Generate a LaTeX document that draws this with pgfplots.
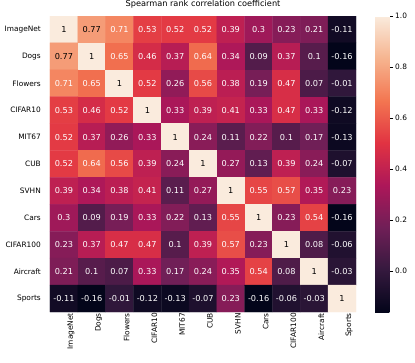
\documentclass[border=0pt]{standalone}
\usepackage{fontspec}
\setmainfont{DejaVu Sans}
\usepackage{pgfplots}
\usepackage{pgfplotstable}
\pgfplotsset{compat=1.18}
\usetikzlibrary{calc}

% seaborn "rocket"
\pgfplotsset{colormap={rocket}{rgb255=(3,5,26) rgb255=(53,25,62) rgb255=(112,31,87)
  rgb255=(173,23,89) rgb255=(225,51,66) rgb255=(243,118,81) rgb255=(246,180,143)
  rgb255=(250,235,221)}}

% x = column, y = row (0 = ImageNet ... 10 = Sports), k = 100 for black text, 0 for white
\pgfplotstableread{
x y c k
0 0 1 100
1 0 0.77 100
2 0 0.71 0
3 0 0.53 0
4 0 0.52 0
5 0 0.52 0
6 0 0.39 0
7 0 0.3 0
8 0 0.23 0
9 0 0.21 0
10 0 -0.11 0
0 1 0.77 100
1 1 1 100
2 1 0.65 0
3 1 0.46 0
4 1 0.37 0
5 1 0.64 0
6 1 0.34 0
7 1 0.09 0
8 1 0.37 0
9 1 0.1 0
10 1 -0.16 0
0 2 0.71 0
1 2 0.65 0
2 2 1 100
3 2 0.52 0
4 2 0.26 0
5 2 0.56 0
6 2 0.38 0
7 2 0.19 0
8 2 0.47 0
9 2 0.07 0
10 2 -0.01 0
0 3 0.53 0
1 3 0.46 0
2 3 0.52 0
3 3 1 100
4 3 0.33 0
5 3 0.39 0
6 3 0.41 0
7 3 0.33 0
8 3 0.47 0
9 3 0.33 0
10 3 -0.12 0
0 4 0.52 0
1 4 0.37 0
2 4 0.26 0
3 4 0.33 0
4 4 1 100
5 4 0.24 0
6 4 0.11 0
7 4 0.22 0
8 4 0.1 0
9 4 0.17 0
10 4 -0.13 0
0 5 0.52 0
1 5 0.64 0
2 5 0.56 0
3 5 0.39 0
4 5 0.24 0
5 5 1 100
6 5 0.27 0
7 5 0.13 0
8 5 0.39 0
9 5 0.24 0
10 5 -0.07 0
0 6 0.39 0
1 6 0.34 0
2 6 0.38 0
3 6 0.41 0
4 6 0.11 0
5 6 0.27 0
6 6 1 100
7 6 0.55 0
8 6 0.57 0
9 6 0.35 0
10 6 0.23 0
0 7 0.3 0
1 7 0.09 0
2 7 0.19 0
3 7 0.33 0
4 7 0.22 0
5 7 0.13 0
6 7 0.55 0
7 7 1 100
8 7 0.23 0
9 7 0.54 0
10 7 -0.16 0
0 8 0.23 0
1 8 0.37 0
2 8 0.47 0
3 8 0.47 0
4 8 0.1 0
5 8 0.39 0
6 8 0.57 0
7 8 0.23 0
8 8 1 100
9 8 0.08 0
10 8 -0.06 0
0 9 0.21 0
1 9 0.1 0
2 9 0.07 0
3 9 0.33 0
4 9 0.17 0
5 9 0.24 0
6 9 0.35 0
7 9 0.54 0
8 9 0.08 0
9 9 1 100
10 9 -0.03 0
0 10 -0.11 0
1 10 -0.16 0
2 10 -0.01 0
3 10 -0.12 0
4 10 -0.13 0
5 10 -0.07 0
6 10 0.23 0
7 10 -0.16 0
8 10 -0.06 0
9 10 -0.03 0
10 10 1 100
}\corr

\begin{document}
\begin{tikzpicture}[font=\fontsize{8.2}{10}\selectfont]
\begin{axis}[
    name=hm,
    width=306pt, height=296pt, scale only axis,
    xmin=-0.5, xmax=10.5, ymin=-0.5, ymax=10.5,
    y dir=reverse,
    xtick={0,...,10}, ytick={0,...,10},
    xticklabels={ImageNet,Dogs,Flowers,CIFAR10,MIT67,CUB,SVHN,Cars,CIFAR100,Aircraft,Sports},
    yticklabels={ImageNet,Dogs,Flowers,CIFAR10,MIT67,CUB,SVHN,Cars,CIFAR100,Aircraft,Sports},
    tick label style={font=\fontsize{7.4}{9}\selectfont},
    xticklabel style={rotate=90, anchor=east, inner sep=1pt, yshift=-7pt},
    yticklabel style={anchor=east, inner sep=1pt, xshift=-8pt},
    tick style={draw=none},
    axis line style={draw=none},
    title={Spearman rank correlation coefficient},
    title style={at={(0.5,1)}, anchor=base, inner sep=0pt, yshift=4pt},
    colormap name=rocket,
    point meta min=-0.16, point meta max=1,
    colorbar,
    colorbar style={
        width=15pt,
        at={(parent axis.north east)}, anchor=north west, xshift=10.5pt,
        axis line style={draw=none},
        ytick={0,0.2,0.4,0.6,0.8,1},
        yticklabels={0.0,0.2,0.4,0.6,0.8,1.0},
        ytick pos=right,
        tick align=outside,
        major tick length=3pt,
        ytick style={draw=black, line width=0.5pt},
        yticklabel style={inner sep=1pt, xshift=1pt, font=\fontsize{7.4}{9}\selectfont},
    },
]
\addplot[matrix plot*, mesh/cols=11, point meta=explicit] table[meta=c]{\corr};
\addplot[draw=none, mark=none, point meta=explicit symbolic,
    nodes near coords,
    visualization depends on={\thisrow{k}\as\tk},
    every node near coord/.append style={anchor=center, text=black!\tk!white, inner sep=0pt}]
    table[meta=c]{\corr};
\end{axis}
\pgfresetboundingbox
\path ($(hm.north west)+(-50pt,16pt)$) rectangle ($(hm.north west)+(365pt,-346pt)$);
\end{tikzpicture}
\end{document}
